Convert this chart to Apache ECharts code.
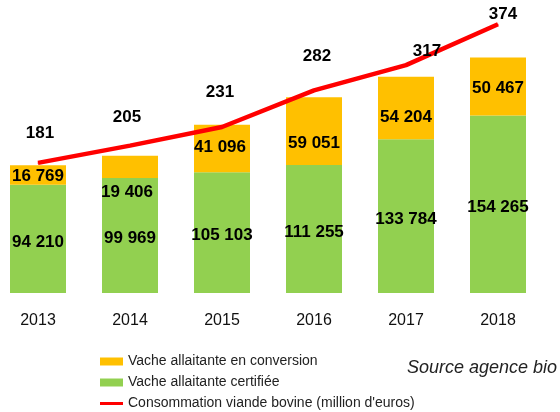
<!DOCTYPE html>
<html><head><meta charset="utf-8">
<script src="https://cdn.jsdelivr.net/npm/echarts@6/dist/echarts.min.js"></script>
<style>html,body{margin:0;padding:0;background:#fff;overflow:hidden}#wrap{width:560px;height:412px;overflow:hidden;position:relative}#c{position:absolute;left:-8px;top:0;width:568px;height:412px}</style>
</head><body><div id="wrap"><div id="c"></div></div>
<script>
var years = ['2013','2014','2015','2016','2017','2018'];
var certifiee = [94210, 99969, 105103, 111255, 133784, 154265];
var conversion = [16769, 19406, 41096, 59051, 54204, 50467];
var consommation = [181, 205, 231, 282, 317, 374];
var seriesNames = ['Vache allaitante certifiée','Vache allaitante en conversion','Consommation viande bovine (million d\'euros)'];

var convOffsets = [[0,1],[-3,25],[-2,-1],[0,12],[0,9],[0,2]];
var lineOffsets = [[2,-21],[-3,-19],[-2,-26],[3,-25],[21,-5],[5,-1]];

function fmt(v){ return String(v).replace(/\B(?=(\d{3})+(?!\d))/g,' '); }
var FONT = 'Liberation Sans';
var lblStyle = {fontFamily: FONT, fontSize: 17, fontWeight: 'bold', color: '#000'};

var chart = echarts.init(document.getElementById('c'), null, {renderer:'canvas'});
chart.setOption({
  animation: false,
  textStyle: {fontFamily: FONT},
  grid: {left: 0, right: 16, top: 5.5, bottom: 119, containLabel: false},
  legend: {
    orient: 'vertical', left: 108, top: 354.5, padding: 0, height: 60,
    itemWidth: 23, itemHeight: 8, itemGap: 7,
    textStyle: {fontFamily: FONT, fontSize: 14, color: '#222', lineHeight: 14},
    data: [
      {name: seriesNames[1], icon: 'rect'},
      {name: seriesNames[0], icon: 'rect'},
      {name: seriesNames[2], icon: 'path://M0,0 L23,0 L23,3 L0,3 Z'}
    ]
  },
  xAxis: {
    type: 'category', data: years,
    axisLine: {show: false}, axisTick: {show: false},
    axisLabel: {fontFamily: FONT, fontSize: 16, color: '#111', margin: 20}
  },
  yAxis: [
    {type: 'value', min: 0, max: 250000, show: false, splitLine: {show: false}},
    {type: 'value', min: 0, max: 400, show: false, splitLine: {show: false}}
  ],
  graphic: [{
    type: 'text', left: 415, top: 359,
    style: {text: 'Source agence bio', fontFamily: FONT, fontSize: 18, fontStyle: 'italic', fill: '#222'}
  }],
  series: [
    {
      name: seriesNames[0], type: 'bar', stack: 'v', barWidth: 56,
      itemStyle: {color: '#92D050'},
      label: Object.assign({show: true, position: 'inside', offset: [0,3], formatter: function(p){return fmt(p.value);}}, lblStyle),
      data: certifiee
    },
    {
      name: seriesNames[1], type: 'bar', stack: 'v', barWidth: 56,
      itemStyle: {color: '#FFC000'},
      label: Object.assign({show: true, position: 'inside', formatter: function(p){return fmt(p.value);}}, lblStyle),
      data: conversion.map(function(v,i){ return {value: v, label: {offset: convOffsets[i]}}; })
    },
    {
      name: seriesNames[2], type: 'line', yAxisIndex: 1, symbol: 'circle', symbolSize: 1, showSymbol: true, z: 5,
      lineStyle: {color: '#FF0000', width: 4.5},
      itemStyle: {color: '#FF0000'},
      label: Object.assign({show: true, position: 'top', distance: 0}, lblStyle),
      labelLayout: function(p){ var o = lineOffsets[p.dataIndex]; return {dx: o[0], dy: o[1], hideOverlap: false}; },
      data: consommation
    }
  ]
});
</script></body></html>
